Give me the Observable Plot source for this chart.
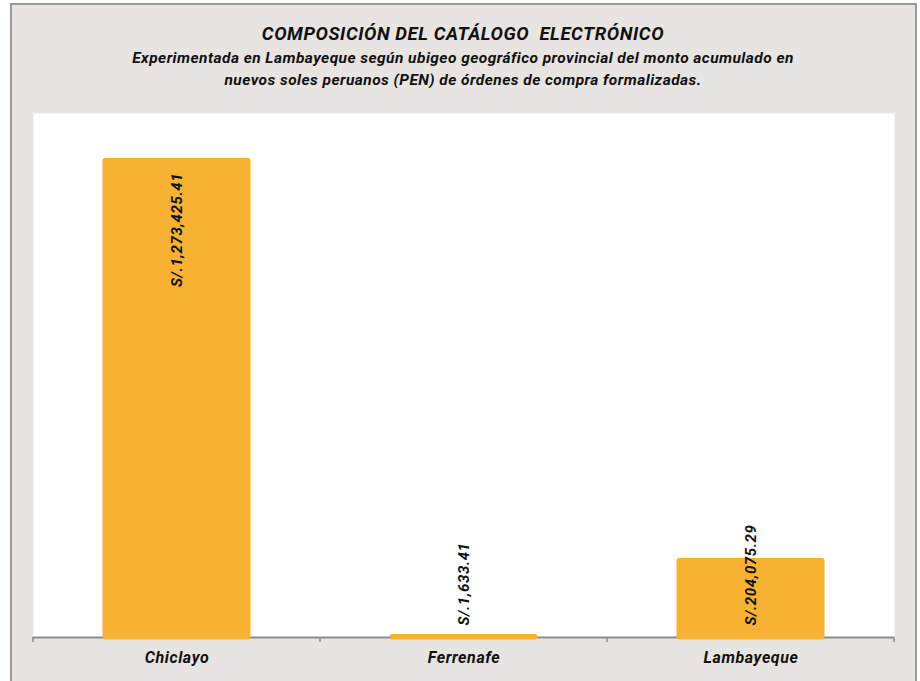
<!DOCTYPE html>
<html>
<head>
<meta charset="utf-8">
<script src="https://cdn.jsdelivr.net/npm/d3@7"></script>
<script src="https://cdn.jsdelivr.net/npm/@observablehq/plot@0.6"></script>
<style>
  html, body { margin: 0; padding: 0; width: 920px; height: 681px; overflow: hidden; background: #ffffff; }
  .frame { position: absolute; left: 10px; top: 3px; width: 903px; height: 720px; background: #e8e4e1;
           border: 2px solid #9a9a9a; border-bottom: none; }
  .title { position: absolute; left: 11px; width: 904px; text-align: center; font-family: Roboto, sans-serif;
           font-style: italic; font-weight: bold; color: #111; }
  #t1 { top: 23px; font-size: 18.5px; line-height: 22px; letter-spacing: 0.57px; }
  #t2 { top: 47px; font-size: 15.5px; line-height: 22px; letter-spacing: 0.45px; }
  #chart { position: absolute; left: 33px; top: 113px; }
  #chart text { letter-spacing: 0.6px; }
</style>
</head>
<body>
<div class="frame"></div>
<div class="title" id="t1">COMPOSICIÓN DEL CATÁLOGO&nbsp; ELECTRÓNICO</div>
<div class="title" id="t2">Experimentada en Lambayeque según ubigeo geográfico provincial del monto acumulado en<br>nuevos soles peruanos (PEN) de órdenes de compra formalizadas.</div>
<div id="chart"></div>
<script>
const provincias = ["Chiclayo", "Ferrenafe", "Lambayeque"];
const montos = [1273425.41, 1633.41, 204075.29];
const yMax = 1400000;

const data = provincias.map((p, i) => ({prov: p, value: montos[i]}));
const fmt = d => "S/." + d3.format(",.2f")(d.value);
const inside = d => d.value > 0.5 * yMax;

const barColor = "#f7b233";

const boundaryTicks = (index, scales, values, dims) => {
  const x = scales.x;
  const bw = x.bandwidth ? x.bandwidth() : (dims.width - dims.marginLeft - dims.marginRight) / provincias.length;
  const y0 = scales.y(0);
  const xs = provincias.map(p => x(p)).concat([x(provincias[provincias.length - 1]) + bw]);
  const g = d3.create("svg:g");
  g.selectAll("line").data(xs).join("line")
    .attr("x1", d => d).attr("x2", d => d)
    .attr("y1", y0).attr("y2", y0 + 5)
    .attr("stroke", "#8c8c8c").attr("stroke-width", 1.5);
  return g.node();
};

const chart = Plot.plot({
  width: 861,
  height: 568,
  marginTop: 0,
  marginBottom: 44,
  marginLeft: 0,
  marginRight: 0,
  style: {background: "transparent", fontFamily: "Roboto, sans-serif", overflow: "visible"},
  x: {domain: provincias, padding: 0, label: null},
  y: {domain: [0, yMax], axis: null},
  marks: [
    Plot.frame({fill: "white", stroke: null}),
    Plot.ruleY([0], {stroke: "#8c8c8c", strokeWidth: 2}),
    boundaryTicks,
    Plot.barY(data, {x: "prov", y: "value", fill: barColor, stroke: barColor, strokeWidth: 5,
                     strokeLinejoin: "round", insetLeft: 72, insetRight: 72}),
    Plot.text(data.filter(inside), {x: "prov", y: "value", text: fmt, rotate: -90, textAnchor: "end",
                     dy: 12, fontSize: 15, fontWeight: "bold", fontStyle: "italic", fill: "#111"}),
    Plot.text(data.filter(d => !inside(d)), {x: "prov", y: 0, text: fmt, rotate: -90, textAnchor: "start",
                     dy: -12, fontSize: 15, fontWeight: "bold", fontStyle: "italic", fill: "#111"}),
    Plot.axisX({tickSize: 0, tickPadding: 14, fontSize: 16, fontWeight: "bold", fontStyle: "italic",
                fill: "#111", label: null})
  ]
});
document.getElementById("chart").appendChild(chart);
</script>
</body>
</html>
